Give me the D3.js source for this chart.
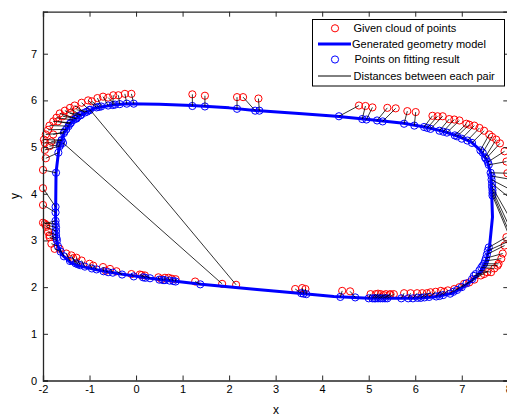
<!DOCTYPE html>
<html>
<head>
<meta charset="utf-8">
<script src="https://cdn.jsdelivr.net/npm/d3@7"></script>
<style>
  html, body { margin: 0; padding: 0; background: #fff; }
  svg { display: block; font-family: "Liberation Sans", Arial, sans-serif; }
</style>
</head>
<body>
<svg id="chart" width="507" height="418"></svg>
<script>
// ---- Data ----
// Given cloud of points (red)
const cloudX = [
  -0.10,-0.24,-0.38,-0.49,-0.71,-0.83,-1.03,-1.17,-1.32,-1.42,-1.53,-1.64,-1.71,-1.78,-1.86,-1.89,-1.94,-1.98,-1.96,-1.96,-1.94,
  -1.57,-1.42,-1.28,-1.78,-1.68,-1.82,-1.86,-0.95,-0.60,
  1.21,1.48,2.17,2.30,2.63,
  4.79,4.93,5.08,5.40,5.58,5.83,6.01,6.37,6.48,6.59,6.73,6.84,6.95,7.10,7.16,7.27,7.38,7.48,7.59,7.65,7.74,7.82,7.92,
  7.96,7.98,8.10,8.12,8.10,8.05,8.02,8.02,8.02,
  7.96,8.05,7.92,7.88,7.85,7.79,7.77,7.70,7.63,7.55,7.48,7.41,7.27,7.16,7.05,6.95,6.84,
  6.70,6.62,6.55,6.44,6.33,6.25,6.15,6.04,5.90,5.76,5.54,5.47,5.45,5.37,5.32,5.26,5.20,5.15,5.04,4.60,4.43,3.64,3.57,3.42,
  2.15,1.85,1.27,0.85,0.77,0.70,0.62,0.55,0.48,0.19,0.12,0.08,-0.10,-0.42,-0.56,-0.65,-0.71,-0.92,-1.00,
  -1.17,-1.28,-1.35,-1.39,-1.50,-1.64,-1.75,-1.82,-1.86,-1.86,-1.89,-1.93,-1.93,-2.00,-1.96,-2.00,-2.00,-2.00
];
const cloudY = [
  6.14,6.14,6.11,6.11,6.08,6.05,6.00,5.95,5.89,5.84,5.78,5.72,5.63,5.55,5.46,5.37,5.27,5.16,5.09,4.94,4.76,
  5.66,5.73,5.80,5.27,5.55,5.12,5.02,5.98,6.06,
  6.13,6.10,6.07,6.07,6.04,
  5.89,5.88,5.85,5.84,5.83,5.77,5.75,5.67,5.66,5.66,5.60,5.59,5.57,5.50,5.48,5.46,5.41,5.35,5.27,5.22,5.16,5.08,4.91,
  4.69,4.44,4.30,4.05,3.85,3.45,3.30,3.18,3.10,
  3.07,3.00,2.89,2.72,2.61,2.50,2.46,2.40,2.32,2.32,2.28,2.25,2.16,2.10,2.07,2.00,1.96,
  1.93,1.90,1.92,1.90,1.89,1.87,1.87,1.87,1.87,1.87,1.85,1.85,1.84,1.85,1.83,1.85,1.86,1.85,1.85,1.91,1.92,1.96,1.98,1.96,
  2.05,2.07,2.12,2.17,2.18,2.20,2.20,2.17,2.21,2.25,2.26,2.27,2.28,2.34,2.39,2.35,2.43,2.46,2.50,
  2.57,2.63,2.62,2.68,2.72,2.82,2.82,2.93,3.07,3.11,3.18,3.29,3.33,3.38,3.36,3.76,4.12,4.51
];
// Points on fitting result (blue), paired with the cloud points above
const fitX = [
  -0.05,-0.20,-0.35,-0.50,-0.60,-0.75,-0.85,-1.00,-1.10,-1.20,-1.25,-1.30,-1.35,-1.40,-1.45,-1.50,-1.55,-1.60,-1.62,-1.64,-1.67,
  -1.28,-1.18,-1.05,-1.54,-1.42,-1.60,-1.63,-0.80,-0.45,
  1.21,1.48,2.17,2.56,2.65,
  4.36,4.86,4.95,5.18,5.30,5.76,5.98,6.19,6.26,6.33,6.52,6.60,6.68,6.85,6.90,7.00,7.12,7.22,7.40,7.45,7.50,7.52,7.56,
  7.58,7.62,7.64,7.64,7.65,7.65,7.66,7.66,7.66,
  7.58,7.56,7.54,7.52,7.50,7.48,7.45,7.42,7.38,7.30,7.26,7.22,7.10,7.00,6.90,6.82,6.75,
  6.60,6.52,6.45,6.30,6.20,6.12,6.05,5.95,5.85,5.70,5.40,5.30,5.35,5.25,5.20,5.15,5.12,5.08,5.00,4.71,4.39,3.66,3.60,3.55,
  -0.99,-1.57,1.38,0.85,0.80,0.72,0.62,0.58,0.50,0.30,0.20,0.15,-0.05,-0.30,-0.50,-0.60,-0.70,-0.85,-0.95,
  -1.10,-1.20,-1.25,-1.30,-1.42,-1.55,-1.62,-1.68,-1.70,-1.71,-1.72,-1.72,-1.72,-1.73,-1.73,-1.73,-1.73,-1.72
];
const fitY = [
  5.93,5.93,5.92,5.90,5.89,5.87,5.85,5.79,5.74,5.68,5.65,5.61,5.58,5.52,5.45,5.38,5.30,5.15,5.09,5.02,4.88,
  5.61,5.69,5.76,5.33,5.50,5.14,5.05,5.86,5.91,
  5.88,5.87,5.82,5.78,5.78,
  5.66,5.60,5.59,5.57,5.55,5.50,5.46,5.43,5.41,5.39,5.35,5.33,5.31,5.25,5.23,5.18,5.14,5.09,4.93,4.88,4.78,4.75,4.68,
  4.62,4.45,4.38,4.30,4.22,4.15,4.08,4.02,3.96,
  2.85,2.78,2.70,2.62,2.56,2.50,2.46,2.42,2.36,2.28,2.24,2.17,2.08,2.00,1.94,1.90,1.86,
  1.83,1.81,1.80,1.79,1.78,1.77,1.77,1.76,1.76,1.76,1.76,1.76,1.76,1.76,1.76,1.76,1.76,1.76,1.76,1.78,1.79,1.85,1.86,1.87,
  5.80,5.09,2.06,2.12,2.13,2.14,2.15,2.15,2.16,2.19,2.20,2.21,2.23,2.27,2.31,2.32,2.34,2.38,2.40,
  2.44,2.47,2.49,2.51,2.56,2.66,2.76,2.88,3.00,3.05,3.12,3.20,3.28,3.35,3.42,3.60,3.72,4.45
];
// Generated geometry model (blue closed curve)
const modelX = [-0.2,0.5,1.2,2.0,2.5,3.5,4.3,5.0,5.75,6.2,6.6,6.95,7.2,7.4,7.55,7.63,7.66,7.6,7.52,7.4,7.2,7.0,6.8,6.4,6.0,5.0,4.25,3.5,2.6,1.4,0.3,-0.4,-0.8,-1.2,-1.4,-1.6,-1.7,-1.73,-1.72,-1.66,-1.55,-1.4,-1.2,-0.9,-0.5];
const modelY = [5.93,5.92,5.89,5.84,5.79,5.72,5.66,5.59,5.51,5.43,5.34,5.22,5.11,4.93,4.70,4.40,3.50,2.90,2.55,2.33,2.13,1.98,1.87,1.79,1.76,1.76,1.80,1.87,1.95,2.06,2.19,2.29,2.36,2.45,2.52,2.70,2.93,3.50,4.45,4.95,5.30,5.52,5.68,5.83,5.90];

const xTicks = [-2,-1,0,1,2,3,4,5,6,7,8];
const yTicks = [0,1,2,3,4,5,6,7];
const legendLabels = ["Given cloud of points","Generated geometry model","Points on fitting result","Distances between each pair"];
const xLabel = "x", yLabel = "y";

// ---- Chart ----
const svg = d3.select("#chart");
const x = d3.scaleLinear().domain([-2, 8]).range([43, 508.3]);
const y = d3.scaleLinear().domain([0, 7.9]).range([380.5, 11.7]);
const axisColor = "#262626";

svg.append("defs").append("clipPath").attr("id", "plotclip")
  .append("rect").attr("x", x(-2)).attr("y", y(7.9))
  .attr("width", x(8) - x(-2)).attr("height", y(0) - y(7.9));

const plot = svg.append("g");

const cloud = cloudX.map((v, i) => ({x: v, y: cloudY[i]}));
const fit = fitX.map((v, i) => ({x: v, y: fitY[i]}));
const model = modelX.map((v, i) => [v, modelY[i]]);

// red circles (only those inside the axis limits)
plot.append("g").selectAll("circle")
  .data(cloud.filter(d => d.x >= -2 && d.x <= 8))
  .join("circle")
  .attr("cx", d => x(d.x)).attr("cy", d => y(d.y)).attr("r", 3.6)
  .attr("fill", "none").attr("stroke", "#ff0000").attr("stroke-width", 1);

// blue model curve
plot.append("path")
  .datum(model)
  .attr("d", d3.line().x(d => x(d[0])).y(d => y(d[1])).curve(d3.curveLinearClosed))
  .attr("fill", "none").attr("stroke", "#0000ff").attr("stroke-width", 3)
  .attr("stroke-linejoin", "round");

// blue circles
plot.append("g").selectAll("circle")
  .data(fit)
  .join("circle")
  .attr("cx", d => x(d.x)).attr("cy", d => y(d.y)).attr("r", 3.6)
  .attr("fill", "none").attr("stroke", "#0000ff").attr("stroke-width", 1);

// black distance lines
plot.append("g").attr("clip-path", "url(#plotclip)").selectAll("line")
  .data(cloud.map((c, i) => [c, fit[i]]))
  .join("line")
  .attr("x1", d => x(d[0].x)).attr("y1", d => y(d[0].y))
  .attr("x2", d => x(d[1].x)).attr("y2", d => y(d[1].y))
  .attr("stroke", "#000").attr("stroke-width", 0.8);

// ---- Axes ----
const fmt = d => String(d);
const gx = svg.append("g").attr("transform", `translate(0,${y(0)})`)
  .call(d3.axisBottom(x).tickValues(xTicks).tickFormat(fmt).tickSize(-5).tickPadding(5));
const gxt = svg.append("g").attr("transform", `translate(0,${y(7.9)})`)
  .call(d3.axisTop(x).tickValues(xTicks).tickFormat("").tickSize(-5));
const gy = svg.append("g").attr("transform", `translate(${x(-2)},0)`)
  .call(d3.axisLeft(y).tickValues(yTicks).tickFormat(fmt).tickSize(-5).tickPadding(6));
const gyr = svg.append("g").attr("transform", `translate(${x(8)},0)`)
  .call(d3.axisRight(y).tickValues(yTicks).tickFormat("").tickSize(-5));

[gx, gxt, gy, gyr].forEach(g => {
  g.select(".domain").attr("stroke", axisColor).attr("stroke-width", 1.3);
  g.selectAll(".tick line").attr("stroke", axisColor);
  g.selectAll(".tick text").attr("fill", "#000").attr("font-size", 11)
    .attr("font-family", '"Liberation Sans", Arial, sans-serif');
});

svg.append("text").attr("x", 276).attr("y", 414).attr("text-anchor", "middle")
  .attr("font-size", 12).text(xLabel);
svg.append("text").attr("transform", "translate(19,196) rotate(-90)")
  .attr("text-anchor", "middle").attr("font-size", 12).text(yLabel);

// ---- Legend ----
const lg = svg.append("g");
lg.append("rect").attr("x", 312.5).attr("y", 19.5).attr("width", 192).attr("height", 66.5)
  .attr("fill", "#fff").attr("stroke", "#000").attr("stroke-width", 1);
const rowsY = [28.3, 44, 59.5, 76];
const lineX1 = 318, lineX2 = 351, markX = 335;
// row 1: red circle
lg.append("circle").attr("cx", markX).attr("cy", rowsY[0]).attr("r", 3.6)
  .attr("fill", "none").attr("stroke", "#ff0000");
// row 2: blue line
lg.append("line").attr("x1", lineX1).attr("x2", lineX2).attr("y1", rowsY[1]).attr("y2", rowsY[1])
  .attr("stroke", "#0000ff").attr("stroke-width", 3);
// row 3: blue circle
lg.append("circle").attr("cx", markX).attr("cy", rowsY[2]).attr("r", 3.6)
  .attr("fill", "none").attr("stroke", "#0000ff");
// row 4: black line
lg.append("line").attr("x1", lineX1).attr("x2", lineX2).attr("y1", rowsY[3]).attr("y2", rowsY[3])
  .attr("stroke", "#000").attr("stroke-width", 1);
const textX = [353.5, 352, 354.5, 353.5];
legendLabels.forEach((t, i) => {
  lg.append("text").attr("x", textX[i]).attr("y", rowsY[i]).attr("dy", "0.35em")
    .attr("font-size", 11).attr("fill", "#000").text(t);
});
</script>
</body>
</html>
